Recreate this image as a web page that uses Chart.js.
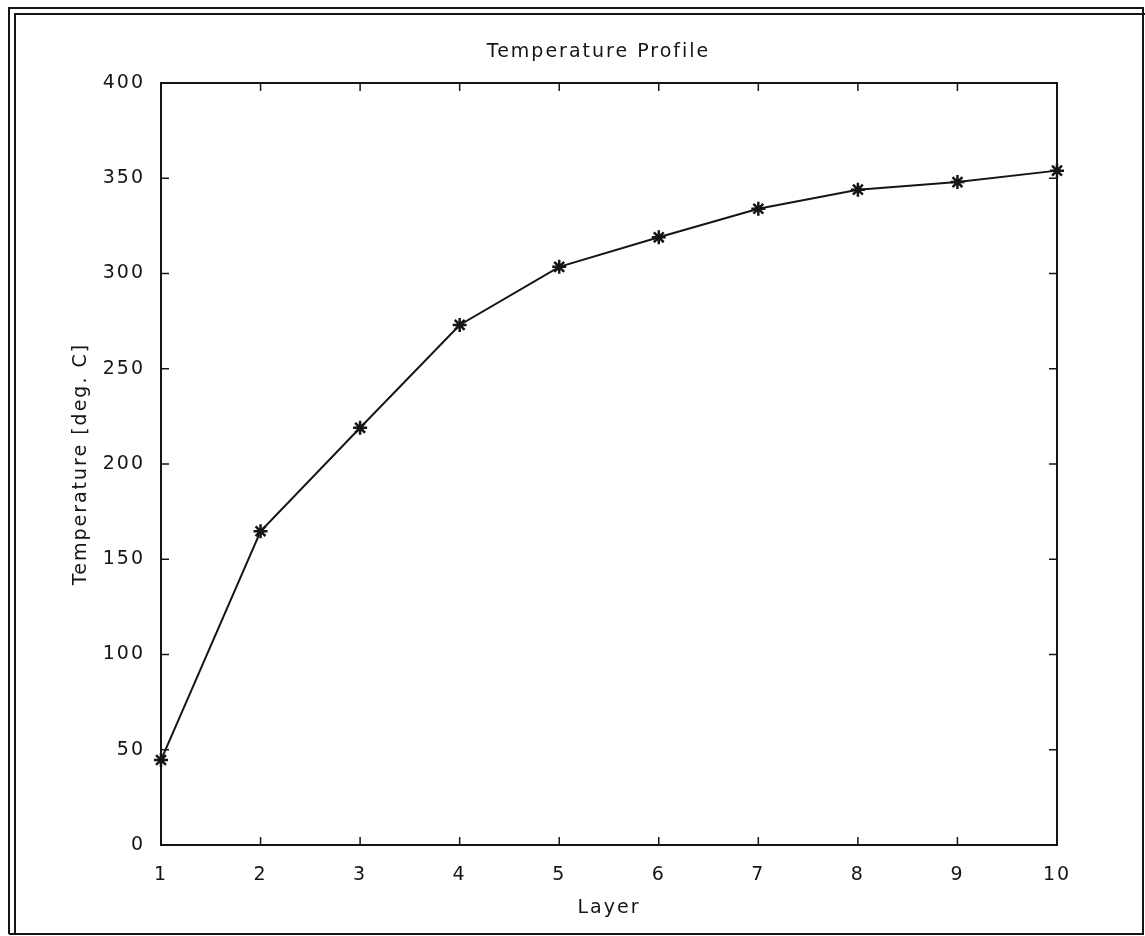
<!DOCTYPE html>
<html>
<head>
<meta charset="utf-8">
<title>Temperature Profile</title>
<script src="https://cdn.jsdelivr.net/npm/chart.js@4.4.1/dist/chart.umd.min.js"></script>
<style>
    html, body { margin: 0; padding: 0; background: #fff; }
    #caixa { width: 1145px; height: 936px; }
</style>
</head>
<body>
<div id="caixa"><canvas id="grafico"></canvas></div>
<script>
const camadas = [1, 2, 3, 4, 5, 6, 7, 8, 9, 10];
const temperaturas = [44.6, 164.7, 219, 273, 303.5, 319, 334, 344, 348, 354];
const ticksX = [1, 2, 3, 4, 5, 6, 7, 8, 9, 10];
const ticksY = [0, 50, 100, 150, 200, 250, 300, 350, 400];

const preto = '#151515';
const fonte = 'DejaVu Sans';

const pontos = [];
for (let i = 0; i < camadas.length; i++) {
    pontos.push({ x: camadas[i], y: temperaturas[i] });
}

// moldura dupla, caixa do grafico e ticks para dentro (estilo matlab)
const moldura = {
    id: 'moldura',
    beforeDraw: function (chart) {
        chart.ctx.letterSpacing = '2px';
    },
    afterDraw: function (chart) {
        const ctx = chart.ctx;
        const a = chart.chartArea;
        const sx = chart.scales.x;
        const sy = chart.scales.y;
        const tam = 8;

        ctx.save();
        ctx.strokeStyle = preto;

        // moldura externa
        ctx.lineWidth = 2;
        ctx.beginPath();
        ctx.moveTo(9, 934);
        ctx.lineTo(9, 8);
        ctx.lineTo(1143, 8);
        ctx.lineTo(1143, 934);
        ctx.lineTo(9, 934);
        ctx.moveTo(15, 934);
        ctx.lineTo(15, 14);
        ctx.lineTo(1145, 14);
        ctx.stroke();

        // caixa
        ctx.lineWidth = 2;
        ctx.strokeRect(a.left, a.top, a.right - a.left, a.bottom - a.top);

        // ticks
        ctx.lineWidth = 1.5;
        ctx.beginPath();
        ticksX.forEach(function (v) {
            const px = sx.getPixelForValue(v);
            ctx.moveTo(px, a.bottom);
            ctx.lineTo(px, a.bottom - tam);
            ctx.moveTo(px, a.top);
            ctx.lineTo(px, a.top + tam);
        });
        ticksY.forEach(function (v) {
            const py = sy.getPixelForValue(v);
            ctx.moveTo(a.left, py);
            ctx.lineTo(a.left + tam, py);
            ctx.moveTo(a.right, py);
            ctx.lineTo(a.right - tam, py);
        });
        ctx.stroke();
        ctx.restore();
    }
};

new Chart(document.getElementById('grafico'), {
    type: 'line',
    data: {
        datasets: [{
            label: 'Temperatura',
            data: pontos,
            borderColor: preto,
            borderWidth: 2,
            tension: 0,
            fill: false,
            clip: false,
            pointStyle: 'star',
            pointRadius: 7,
            pointBorderWidth: 2.5,
            pointBorderColor: preto,
            pointBackgroundColor: preto
        }]
    },
    options: {
        responsive: true,
        maintainAspectRatio: false,
        animation: false,
        devicePixelRatio: 1,
        layout: {
            padding: { top: 20, left: 70, right: 18, bottom: 0 }
        },
        plugins: {
            legend: { display: false },
            tooltip: { enabled: false },
            title: {
                display: true,
                text: 'Temperature Profile',
                color: preto,
                font: { family: fonte, size: 19, weight: 'normal' },
                padding: { top: 20.6, bottom: 19.6 }
            }
        },
        scales: {
            x: {
                type: 'linear',
                min: 1,
                max: 10,
                grid: { display: false },
                border: { display: false },
                afterBuildTicks: function (scale) {
                    scale.ticks = ticksX.map(function (v) { return { value: v }; });
                },
                afterFit: function (scale) {
                    scale.height = 91;
                },
                ticks: {
                    color: preto,
                    padding: 11,
                    maxRotation: 0,
                    font: { family: fonte, size: 19 }
                },
                title: {
                    display: true,
                    text: 'Layer',
                    color: preto,
                    font: { family: fonte, size: 19 },
                    padding: { top: 0, bottom: 16.6 }
                }
            },
            y: {
                min: 0,
                max: 400,
                grid: { display: false },
                border: { display: false },
                afterBuildTicks: function (scale) {
                    scale.ticks = ticksY.map(function (v) { return { value: v }; });
                },
                afterFit: function (scale) {
                    scale.width = 91;
                },
                ticks: {
                    color: preto,
                    padding: 8,
                    font: { family: fonte, size: 19 }
                },
                title: {
                    display: true,
                    text: 'Temperature [deg. C]',
                    color: preto,
                    font: { family: fonte, size: 19 },
                    padding: { top: 0, bottom: 0 }
                }
            },
            // eixo vazio so para reservar a margem da direita
            y2: {
                position: 'right',
                min: 0,
                max: 400,
                grid: { display: false },
                border: { display: false },
                ticks: { display: false },
                afterFit: function (scale) {
                    scale.width = 70;
                }
            }
        }
    },
    plugins: [moldura]
});
</script>
</body>
</html>
